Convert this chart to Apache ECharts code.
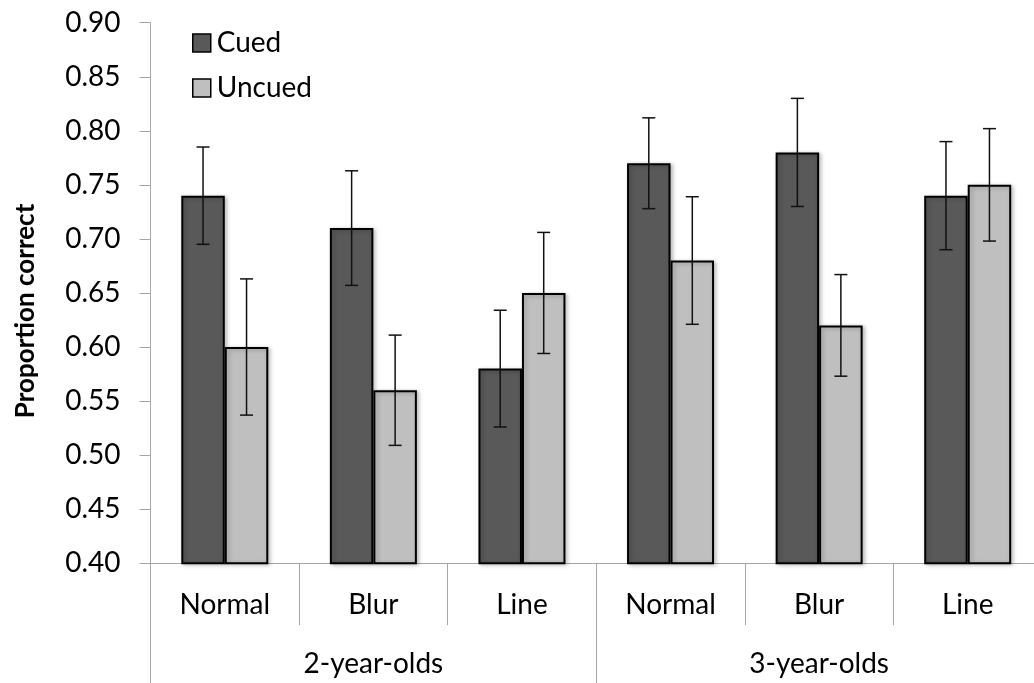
<!DOCTYPE html>
<html>
<head>
<meta charset="utf-8">
<script src="https://cdn.jsdelivr.net/npm/echarts@6/dist/echarts.min.js"></script>
<style>
html,body{margin:0;padding:0;background:#fff;}
#chart{width:1034px;height:683px;}
</style>
</head>
<body>
<div id="chart"></div>
<script>
const categories = ['Normal','Blur','Line','Normal','Blur','Line'];
const groups = ['2-year-olds','3-year-olds'];
const cued = [0.74,0.71,0.58,0.77,0.78,0.74];
const uncued = [0.60,0.56,0.65,0.68,0.62,0.75];
const cuedErr = [0.045,0.053,0.054,0.042,0.050,0.050];
const uncuedErr = [0.063,0.051,0.056,0.059,0.047,0.052];
const yTicks = [0.40,0.45,0.50,0.55,0.60,0.65,0.70,0.75,0.80,0.85,0.90];

const FONT = 'Lato';
const BAR_W = 43.5;
const AXIS_COLOR = '#a6a6a6';

function errSeries(name, vals, errs, side){
  return {
    type:'custom',
    name: name + ' err',
    xAxisIndex:0, yAxisIndex:0,
    z:10,
    silent:true,
    data: vals.map((v,i)=>[i,v,errs[i]]),
    renderItem:function(params, api){
      const i = api.value(0), v = api.value(1), e = api.value(2);
      const c = api.coord([i, v]);
      const top = api.coord([i, v+e])[1];
      const bot = api.coord([i, v-e])[1];
      const x = c[0] + side*BAR_W/2;
      const hw = 6.5;
      const st = {stroke:'#111', lineWidth:1.5};
      return {type:'group', children:[
        {type:'line', shape:{x1:x,y1:top,x2:x,y2:bot}, style:st},
        {type:'line', shape:{x1:x-hw,y1:top,x2:x+hw,y2:top}, style:st},
        {type:'line', shape:{x1:x-hw,y1:bot,x2:x+hw,y2:bot}, style:st}
      ]};
    }
  };
}

const chart = echarts.init(document.getElementById('chart'));
chart.setOption({
  animation:false,
  textStyle:{fontFamily:FONT},
  grid:{left:150.5, top:22.7, width:891.5, height:540.5, containLabel:false, outerBoundsMode:'none'},
  legend:{
    data:['Cued','Uncued'],
    orient:'vertical',
    left:192, top:29,
    padding:0,
    itemWidth:18, itemHeight:18, itemGap:17,
    icon:'rect',
    itemStyle:{borderColor:'#000', borderWidth:1.5},
    textStyle:{fontFamily:FONT, fontSize:28, color:'#000', padding:[0,0,0,1]}
  },
  xAxis:[{
    type:'category',
    data:categories,
    position:'bottom',
    axisLine:{show:true, lineStyle:{color:AXIS_COLOR, width:1}},
    axisTick:{show:true, length:62, interval:0, alignWithLabel:false, lineStyle:{color:AXIS_COLOR, width:1}},
    axisLabel:{interval:0, margin:28, fontFamily:FONT, fontSize:28, color:'#000'}
  },{
    type:'category',
    data:groups,
    position:'bottom',
    offset:0,
    axisLine:{show:false},
    axisTick:{show:true, length:125, interval:0, alignWithLabel:false, lineStyle:{color:AXIS_COLOR, width:1}},
    axisLabel:{interval:0, margin:87, fontFamily:FONT, fontSize:28, color:'#000'},
    splitLine:{show:false}
  }],
  yAxis:{
    type:'value',
    min:0.40, max:0.90, interval:0.05,
    axisLine:{show:true, lineStyle:{color:AXIS_COLOR, width:1}},
    axisTick:{show:true, length:11, inside:false, lineStyle:{color:AXIS_COLOR, width:1}},
    splitLine:{show:false},
    axisLabel:{
      margin:30, fontFamily:FONT, fontSize:28, color:'#000',
      formatter:function(v){ const t = yTicks.find(x=>Math.abs(x-v)<1e-6); return (t!==undefined?t:v).toFixed(2); }
    },
    name:'Proportion correct',
    nameLocation:'middle',
    nameGap:112,
    nameRotate:90,
    nameTextStyle:{fontFamily:FONT, fontSize:26, fontWeight:'bold', color:'#000', padding:[0,36,0,0]}
  },
  series:[
    {
      name:'Cued', type:'bar', data:cued, barWidth:BAR_W, barGap:'0%',
      itemStyle:{color:'#595959', borderColor:'#000', borderWidth:2,
        shadowBlur:4, shadowColor:'rgba(0,0,0,0.25)', shadowOffsetX:2, shadowOffsetY:1}
    },
    {
      name:'Uncued', type:'bar', data:uncued, barWidth:BAR_W, barGap:'0%',
      itemStyle:{color:'#bfbfbf', borderColor:'#000', borderWidth:2,
        shadowBlur:4, shadowColor:'rgba(0,0,0,0.25)', shadowOffsetX:2, shadowOffsetY:1}
    },
    errSeries('Cued', cued, cuedErr, -1),
    errSeries('Uncued', uncued, uncuedErr, 1)
  ]
});
</script>
</body>
</html>
